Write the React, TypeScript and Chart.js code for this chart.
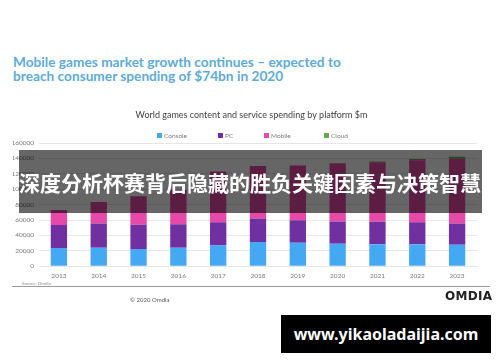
import React, { useEffect, useRef } from "react";
import { Chart, registerables } from "chart.js";

Chart.register(...registerables);

const years = ["2013", "2014", "2015", "2016", "2017", "2018", "2019", "2020", "2021", "2022", "2023"];
const consoleValues = [23500, 24000, 22500, 24000, 27000, 31500, 30300, 29000, 28600, 28600, 27700];
const pcValues = [30000, 31500, 31200, 30500, 30000, 30500, 29500, 29000, 29000, 28600, 27800];
const mobileValues = [19500, 28000, 37000, 44500, 66000, 68000, 71000, 75500, 77500, 80500, 84000];
const cloudValues = [0, 0, 0, 0, 0, 0, 0, 500, 1000, 1500, 2500];
const seriesNames = ["Console", "PC", "Mobile", "Cloud"];
const seriesColors = ["#44a8f3", "#7030a0", "#e64aa8", "#6aaa4f"];

const headline = ["Mobile games market growth continues \u2013 expected to", "breach consumer spending of $74bn in 2020"];
const subtitle = "World games content and service spending by platform $m";
const overlayText = "深度分析杯赛背后隐藏的胜负关键因素与决策智慧";
const siteText = "www.yikaoladaijia.com";

const headerPlugin = {
  id: "customHeader",
  afterDraw(chart: any) {
    const ctx = chart.ctx;
    ctx.save();
    ctx.font = "9px Lato";
    ctx.fillStyle = "#404040";
    ctx.textAlign = "center";
    ctx.textBaseline = "middle";
    ctx.fillText(subtitle, 251.5, 115);
    const xs = [157, 218, 264, 324];
    const y = 135.5;
    ctx.font = "6.5px Lato";
    ctx.textAlign = "left";
    chart.data.datasets.forEach((ds: any, i: number) => {
      ctx.fillStyle = ds.backgroundColor;
      ctx.fillRect(xs[i], y - 2.5, 5, 5);
      ctx.fillStyle = "#7a7a7a";
      ctx.fillText(ds.label, xs[i] + 7, y);
    });
    ctx.restore();
  },
};

export default function App() {
  const ref = useRef<HTMLCanvasElement>(null);
  useEffect(() => {
    if (!ref.current) return;
    const values = [consoleValues, pcValues, mobileValues, cloudValues];
    const chart = new Chart(ref.current, {
      type: "bar",
      data: {
        labels: years,
        datasets: seriesNames.map((name, i) => ({
          label: name,
          data: values[i],
          backgroundColor: seriesColors[i],
          borderWidth: 0,
          categoryPercentage: 1,
          barPercentage: 0.41,
        })),
      },
      options: {
        responsive: false,
        animation: false,
        layout: { padding: { left: 13, right: 23, top: 143, bottom: 76 } },
        plugins: {
          legend: { display: false },
          tooltip: { enabled: false },
          title: { display: false },
        },
        scales: {
          x: {
            stacked: true,
            grid: { display: false, drawTicks: false },
            border: { display: false },
            ticks: { color: "#7a7a7a", font: { family: "Lato", size: 6.5 }, padding: 6 },
          },
          y: {
            stacked: true,
            min: 0,
            max: 160000,
            afterFit: (scale: any) => {
              scale.width = 26;
            },
            grid: { color: "#e6e6e6", drawTicks: false },
            border: { display: false },
            ticks: {
              stepSize: 20000,
              color: "#7a7a7a",
              font: { family: "Lato", size: 6.5 },
              padding: 5,
              callback: (v: any) => String(v),
            },
          },
        },
      },
      plugins: [headerPlugin],
    });
    return () => chart.destroy();
  }, []);

  return (
    <div style={{ position: "fixed", left: 0, top: 0, width: 500, height: 362, background: "#fff", overflow: "hidden" }}>
      <div
        style={{
          position: "absolute",
          left: 13,
          top: 55,
          fontFamily: "Lato",
          fontWeight: 700,
          fontSize: 13.7,
          lineHeight: "13.5px",
          color: "#5eabd8",
          whiteSpace: "nowrap",
        }}
      >
        {headline[0]}
        <br />
        {headline[1]}
      </div>
      <canvas ref={ref} width={500} height={362} style={{ position: "absolute", left: 0, top: 0 }} />
      <div style={{ position: "absolute", left: 22, top: 281, fontFamily: "Lato", fontSize: 4.5, color: "#888" }}>Source: Omdia</div>
      <div style={{ position: "absolute", left: 12, top: 286, width: 478, height: 1, background: "#9a9a9a" }} />
      <div style={{ position: "absolute", left: 130, top: 296, fontFamily: "Lato", fontSize: 6, color: "#555" }}>© 2020 Omdia</div>
      <div
        style={{
          position: "absolute",
          left: 445,
          top: 289,
          fontFamily: "DejaVu Sans",
          fontWeight: 700,
          fontSize: 12,
          letterSpacing: 0.3,
          color: "#222",
        }}
      >
        OMDIA
      </div>
      <div
        style={{
          position: "absolute",
          left: 19,
          top: 150,
          width: 463,
          height: 62.5,
          background: "rgba(0,0,0,0.6)",
        }}
      />
      <div
        style={{
          position: "absolute",
          left: 19,
          top: 169,
          width: 463,
          fontFamily: "Noto Sans CJK SC",
          fontWeight: 700,
          fontSize: 21,
          lineHeight: "27px",
          color: "#fff",
          whiteSpace: "nowrap",
        }}
      >
        {overlayText}
      </div>
      <div
        style={{
          position: "absolute",
          left: 281,
          top: 315,
          width: 210,
          height: 38,
          background: "#000",
          color: "#fff",
          fontFamily: "Noto Sans",
          fontWeight: 700,
          fontSize: 16,
          lineHeight: "38px",
          textAlign: "center",
          whiteSpace: "nowrap",
        }}
      >
        {siteText}
      </div>
    </div>
  );
}
